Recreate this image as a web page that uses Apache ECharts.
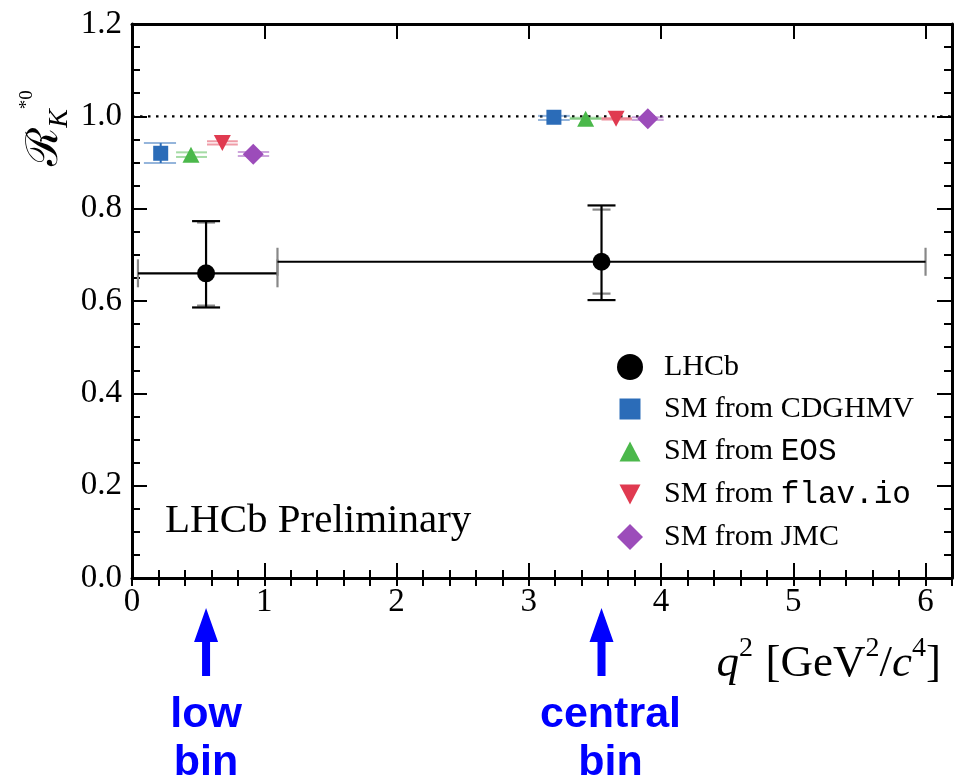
<!DOCTYPE html>
<html><head><meta charset="utf-8">
<script src="https://cdn.jsdelivr.net/npm/echarts@6/dist/echarts.min.js"></script>
<style>html,body{margin:0;padding:0;background:#fff}#c{width:959px;height:782px}</style>
</head><body><div id="c"></div>
<script>
// ---- data ----
const legendNames = ['LHCb', 'SM from CDGHMV', 'SM from EOS', 'SM from flav.io', 'SM from JMC'];
// LHCb bins: [xLow, xHigh, xCentre, value, statLow, statHigh, totLow, totHigh]
const lhcbBins = [
  [0.045, 1.1, 0.56, 0.660, 0.590, 0.770, 0.586, 0.773],
  [1.1, 6.0, 3.55, 0.685, 0.616, 0.798, 0.602, 0.807]
];
// SM predictions: [xLow, xHigh, xCentre, value, low, high]
const cdghmv = [[0.09, 0.333, 0.217, 0.920, 0.899, 0.942], [3.07, 3.31, 3.19, 0.998, 0.992, 1.001]];
const eos    = [[0.333, 0.567, 0.446, 0.917, 0.912, 0.922], [3.31, 3.55, 3.43, 0.995, 0.994, 0.997]];
const flavio = [[0.567, 0.80, 0.683, 0.942, 0.939, 0.946], [3.55, 3.78, 3.66, 0.995, 0.993, 0.996]];
const jmc    = [[0.80, 1.037, 0.917, 0.918, 0.914, 0.923], [3.78, 4.02, 3.90, 0.995, 0.992, 0.998]];
const smRatio = 1.0;
const xTicks = [0, 1, 2, 3, 4, 5, 6];
const yTicks = [0.0, 0.2, 0.4, 0.6, 0.8, 1.0, 1.2];
const binArrows = [0.56, 3.55];
const binLabels = ['low\nbin', 'central\nbin'];

// ---- helpers ----
const serif = 'Liberation Serif';
const chart = echarts.init(document.getElementById('c'), null, {renderer: 'canvas'});
function seg(x1, y1, x2, y2, style) { return {type: 'line', shape: {x1, y1, x2, y2}, style}; }

function lhcbItem(params, api) {
  const y = api.value(3), xc = api.value(2);
  const a = api.coord([api.value(0), y]), b = api.coord([api.value(1), y]);
  const cx = api.coord([xc, y])[0];
  const sLo = api.coord([xc, api.value(4)])[1], sHi = api.coord([xc, api.value(5)])[1];
  const tLo = api.coord([xc, api.value(6)])[1], tHi = api.coord([xc, api.value(7)])[1];
  const k = {stroke: '#000', lineWidth: 2.2}, g = {stroke: '#888', lineWidth: 2.2};
  return {type: 'group', children: [
    seg(a[0], a[1] - 14, a[0], a[1] + 14, g),
    seg(b[0], b[1] - 14, b[0], b[1] + 14, g),
    seg(cx - 9, sLo, cx + 9, sLo, g), seg(cx - 9, sHi, cx + 9, sHi, g),
    seg(cx - 14, tLo, cx + 14, tLo, k), seg(cx - 14, tHi, cx + 14, tHi, k),
    seg(a[0], a[1], b[0], b[1], k),
    seg(cx, tLo, cx, tHi, k)
  ]};
}
function bandRenderer(color, light) {
  return function (params, api) {
    const lo = api.coord([api.value(0), api.value(4)]), lo2 = api.coord([api.value(1), api.value(4)]);
    const hi = api.coord([api.value(0), api.value(5)]), hi2 = api.coord([api.value(1), api.value(5)]);
    const cx = api.coord([api.value(2), 0])[0];
    const l = {stroke: light, lineWidth: 2};
    return {type: 'group', children: [
      seg(lo[0], lo[1], lo2[0], lo2[1], l),
      seg(hi[0], hi[1], hi2[0], hi2[1], l),
      seg(cx, lo[1], cx, hi[1], {stroke: color, lineWidth: 2})
    ]};
  };
}

const models = [
  {name: legendNames[1], data: cdghmv, color: '#2b6cb8', light: 'rgba(43,108,184,0.5)', symbol: 'rect', size: 15, rot: 0,
   icon: 'path://M0,0M26,26M2.5,2.5L23.5,2.5L23.5,23.5L2.5,23.5Z'},
  {name: legendNames[2], data: eos, color: '#4bb84b', light: 'rgba(75,184,75,0.5)', symbol: 'triangle', size: [17, 16], rot: 0,
   icon: 'path://M0,0M26,26M2.5,23L23.5,23L13,3Z'},
  {name: legendNames[3], data: flavio, color: '#e03a50', light: 'rgba(224,58,80,0.5)', symbol: 'triangle', size: [17, 16], rot: 180,
   icon: 'path://M0,0M26,26M2.5,3L23.5,3L13,23Z'},
  {name: legendNames[4], data: jmc, color: '#9c4cba', light: 'rgba(156,76,186,0.5)', symbol: 'diamond', size: 21, rot: 0,
   icon: 'path://M0,0M29,29M14.5,0L29,14.5L14.5,29L0,14.5Z'}
];

const series = [];
series.push({type: 'line', name: 'SM = 1', data: [[0, smRatio], [6.2, smRatio]], symbol: 'none', silent: true,
  lineStyle: {color: '#000', width: 2.2, type: [2.5, 5.5]}, z: 1});
series.push({type: 'scatter', name: legendNames[0], data: lhcbBins.map(d => [d[2], d[3]]),
  symbol: 'circle', symbolSize: 18, itemStyle: {color: '#000', opacity: 1}, z: 5});
models.forEach(m => {
  series.push({type: 'scatter', name: m.name, data: m.data.map(d => [d[2], d[3]]),
    symbol: m.symbol, symbolSize: m.size, symbolRotate: m.rot, itemStyle: {color: m.color, opacity: 1}, z: 5});
});
series.push({type: 'custom', name: legendNames[0], data: lhcbBins, renderItem: lhcbItem,
  encode: {x: [0, 1, 2], y: [3, 4, 5, 6, 7]}, z: 3, silent: true});
models.forEach(m => {
  series.push({type: 'custom', name: m.name, data: m.data, renderItem: bandRenderer(m.color, m.light),
    encode: {x: [0, 1, 2], y: [3, 4, 5]}, z: 3, silent: true});
});

const frame = {show: true, onZero: false, lineStyle: {color: '#000', width: 3}};
const tickStyle = {color: '#000', width: 2};
const xMajor = (pos, labels) => ({
  type: 'value', position: pos, min: 0, max: 6.2, interval: 1,
  axisLine: frame, axisTick: {inside: true, length: 15, lineStyle: tickStyle},
  axisLabel: {show: labels, fontFamily: serif, fontSize: 33, color: '#000', margin: 8,
    formatter: v => xTicks.includes(v) ? String(v) : ''},
  splitLine: {show: false}
});
const xMinor = pos => ({
  type: 'value', position: pos, min: 0, max: 6.2, interval: 0.2,
  axisLine: {show: false}, axisTick: {inside: true, length: 8, lineStyle: tickStyle},
  axisLabel: {show: false}, splitLine: {show: false}
});
const yAx = (pos, labels) => ({
  type: 'value', position: pos, min: 0, max: 1.2, interval: 0.2,
  axisLine: frame, axisTick: {inside: true, length: 15, lineStyle: tickStyle},
  minorTick: {show: true, splitNumber: 4, length: 8, lineStyle: tickStyle},
  axisLabel: {show: labels, fontFamily: serif, fontSize: 33, color: '#000', margin: 10,
    formatter: v => yTicks.some(t => Math.abs(t - v) < 1e-9) ? v.toFixed(1) : ''},
  splitLine: {show: false}
});

const legendIcons = ['circle'].concat(models.map(m => m.icon));
const legendColors = ['#000'].concat(models.map(m => m.color));

chart.setOption({
  animation: false,
  backgroundColor: '#fff',
  grid: {left: 132, top: 24, right: 7, bottom: 204, containLabel: false},
  xAxis: [xMajor('bottom', true), xMinor('bottom'), xMajor('top', false), xMinor('top')],
  yAxis: [yAx('left', true), yAx('right', false)],
  legend: {
    orient: 'vertical', left: 617, top: 352, padding: 0,
    itemWidth: 58, itemHeight: 26, itemGap: 12,
    data: legendNames.map((n, i) => ({name: n, icon: legendIcons[i], itemStyle: {color: legendColors[i], opacity: 1}})),
    formatter: function (name) {
      const mono = ['EOS', 'flav.io'];
      for (const w of mono) { if (name.endsWith(w)) return name.slice(0, name.length - w.length) + '{m|' + w + '}'; }
      return name;
    },
    textStyle: {fontFamily: serif, fontSize: 30, color: '#000', lineHeight: 30,
      rich: {m: {fontFamily: 'Liberation Mono', fontSize: 31, color: '#000', lineHeight: 30}}},
    selectedMode: false
  },
  series: series
});

// annotations
const g = [];
g.push({type: 'text', x: 165, y: 521, silent: true,
  style: {text: 'LHCb Preliminary', fontFamily: serif, fontSize: 41, fill: '#000', align: 'left', verticalAlign: 'middle'}});
g.push({type: 'text', x: 941, y: 661, silent: true,
  style: {text: '{i|q}{s|2} {n|[GeV}{s|2}{n|/}{i|c}{s|4}{n|]}', align: 'right', verticalAlign: 'middle',
    rich: {
      i: {fontFamily: serif, fontStyle: 'italic', fontSize: 45, fill: '#000', verticalAlign: 'bottom', lineHeight: 52},
      n: {fontFamily: serif, fontSize: 45, fill: '#000', verticalAlign: 'bottom', lineHeight: 52},
      s: {fontFamily: serif, fontSize: 28, fill: '#000', verticalAlign: 'top', lineHeight: 46}
    }, fontSize: 45}});
g.push({type: 'text', x: 46, y: 128, rotation: Math.PI / 2, silent: true,
  style: {text: '{r|ℛ}{k|K}{s|*0}', align: 'center', verticalAlign: 'middle',
    rich: {
      r: {fontFamily: 'DejaVu Serif', fontSize: 44, fill: '#000', verticalAlign: 'middle', lineHeight: 56},
      k: {fontFamily: serif, fontStyle: 'italic', fontSize: 28, fill: '#000', verticalAlign: 'bottom', lineHeight: 34},
      s: {fontFamily: serif, fontSize: 19, fill: '#000', verticalAlign: 'top', lineHeight: 34}
    }}});
binArrows.forEach((v, i) => {
  const px = chart.convertToPixel({xAxisIndex: 0}, v);
  g.push({type: 'polygon', silent: true, shape: {points: [[px, 608], [px + 12, 642], [px + 4, 642], [px + 4, 676], [px - 4, 676], [px - 4, 642], [px - 12, 642]]},
    style: {fill: '#0000ff'}});
  g.push({type: 'text', x: px + (i === 0 ? 0 : 9), y: 691, silent: true,
    style: {text: binLabels[i], fontFamily: 'Liberation Sans', fontWeight: 'bold', fontSize: 43, lineHeight: 48,
      fill: '#0000ff', align: 'center', verticalAlign: 'top'}});
});
chart.setOption({graphic: g});
</script>
</body></html>
